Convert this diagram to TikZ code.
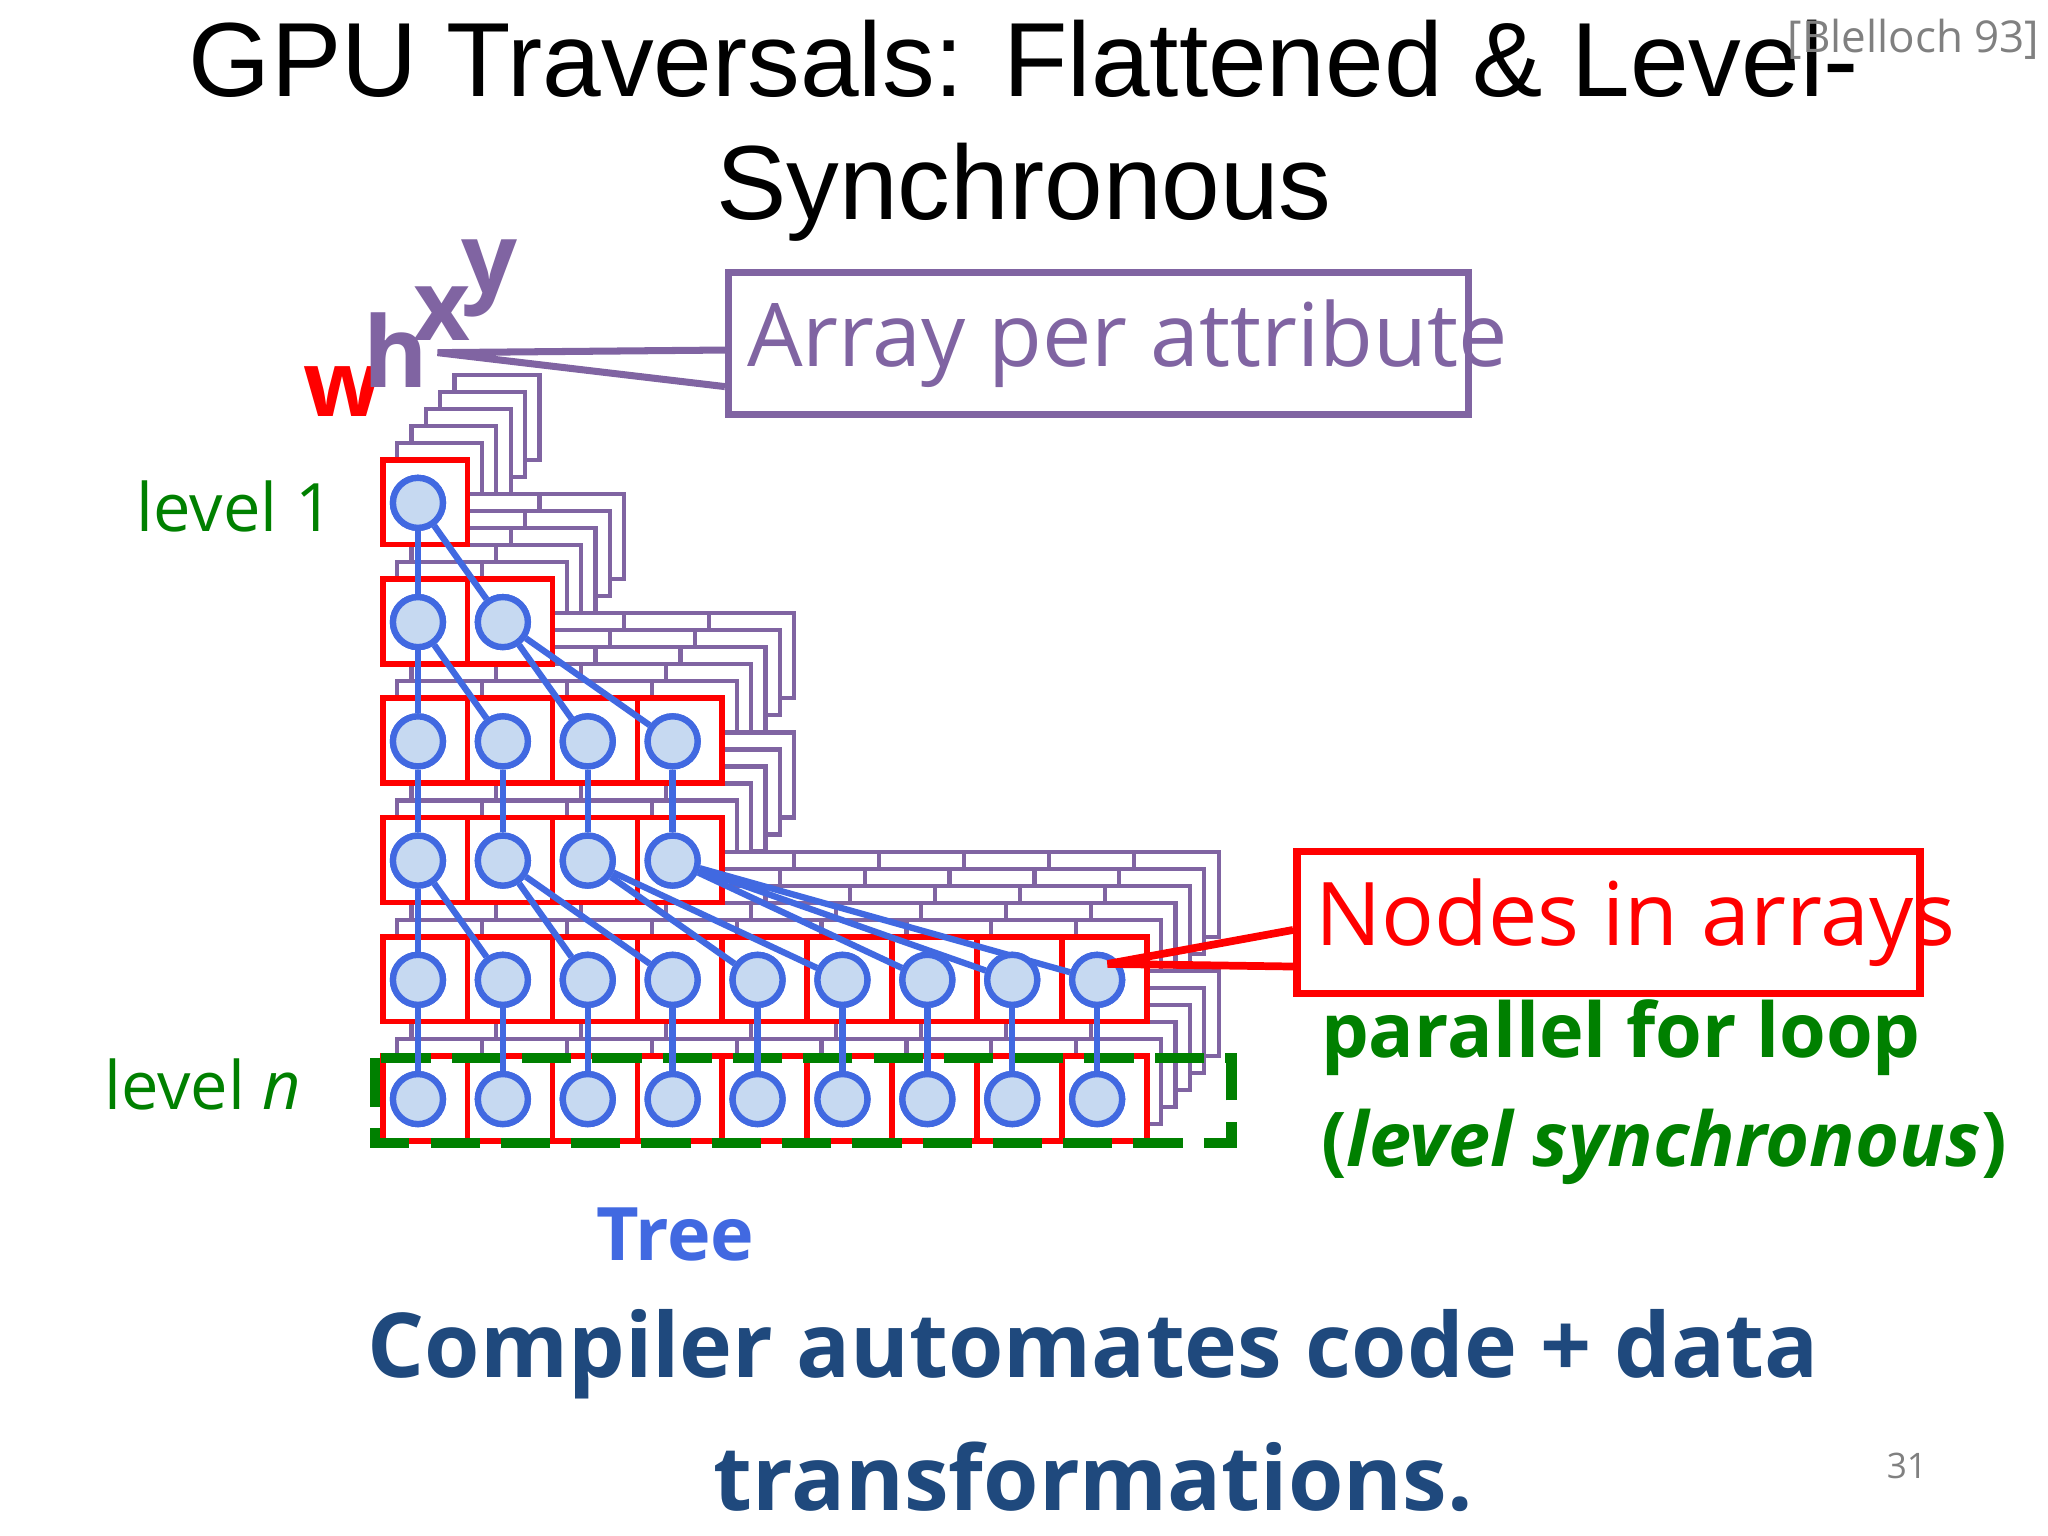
\documentclass[tikz,border=0pt]{standalone}
\usepackage{fontspec}
\setmainfont{Open Sans}
\newfontfamily\arial{Liberation Sans}
\begin{document}
\begin{tikzpicture}[x=0.013061cm,y=-0.013061cm,
 cell/.style={draw=red,line width=1.6pt,fill=white},
 back/.style={draw=pur,line width=1.2pt,fill=white},
 nd/.style={circle,draw=bl,fill=lb,line width=1.8pt,minimum size=0.5cm,inner sep=0pt},
 ed/.style={bl,line width=1.8pt}]
\useasboundingbox (0,0) rectangle (1568,1176);
\definecolor{pur}{RGB}{128,100,162}
\definecolor{grn}{RGB}{0,128,0}
\definecolor{navy}{RGB}{31,73,125}
\definecolor{bl}{RGB}{65,105,225}
\definecolor{lb}{RGB}{198,217,241}
\node[font=\arial\fontsize{30}{35}\selectfont,align=center] (title) at (784,100) {GPU Traversals: Flattened \& Level-\\Synchronous};
\node[font=\fontsize{12.5}{15}\selectfont,text=gray] (cite) at (1465,30) {[Blelloch 93]};
% back arrays
\foreach \r/\n in {0/1,1/2,2/4,3/4,4/9,5/9}{
 \foreach \s in {5,4,3,2,1}{
  \foreach \k in {1,...,\n}{
   \draw[back] ({293+65*(\k-1)+11*\s},{352+91.3*\r-13*\s}) rectangle ++(65,65);
  }}}
% front arrays
\foreach \r/\n in {0/1,1/2,2/4,3/4,4/9,5/9}{
  \foreach \k in {1,...,\n}{
   \draw[cell] ({293+65*(\k-1)},{352+91.3*\r}) rectangle ++(65,65);
   \node[nd] (n\r-\k) at ({320+65*(\k-1)},{385+91.3*\r}) {};
  }}
\draw[grn,line width=3pt,dash pattern=on 14pt off 6pt] (287,810) rectangle (943,875);
\foreach \a/\b in {0-1/1-1,0-1/1-2,1-1/2-1,1-1/2-2,1-2/2-3,1-2/2-4,2-1/3-1,2-2/3-2,2-3/3-3,2-4/3-4,
 3-1/4-1,3-1/4-2,3-2/4-3,3-2/4-4,3-3/4-5,3-3/4-6,3-4/4-7,3-4/4-8,3-4/4-9,
 4-1/5-1,4-2/5-2,4-3/5-3,4-4/5-4,4-5/5-5,4-6/5-6,4-7/5-7,4-8/5-8,4-9/5-9}
 \draw[ed] (n\a) -- (n\b);
\foreach \r/\n in {0/1,1/2,2/4,3/4,4/9,5/9}{\foreach \k in {1,...,\n}{\node[nd] at (n\r-\k) {};}}
% labels
\node[font=\fontsize{19}{23}\selectfont,text=grn] (l1) at (180,388) {level 1};
\node[font=\fontsize{19}{23}\selectfont,text=grn] (ln) at (155,830) {level \textit{n}};
\node[font=\bfseries\fontsize{26}{30}\selectfont,text=red] (w) at (262,300) {w};
\node[font=\bfseries\fontsize{28}{32}\selectfont,text=pur] (h) at (303,268) {h};
\node[font=\bfseries\fontsize{28}{32}\selectfont,text=pur] (x) at (338,240) {x};
\node[font=\bfseries\fontsize{28}{32}\selectfont,text=pur] (y) at (375,213) {y};
\node[draw=pur,line width=2pt,minimum width=7.4cm,minimum height=1.42cm,anchor=north west,inner sep=0pt] (arr) at (555,206) {};
\node[text=pur,font=\fontsize{25}{30}\selectfont,anchor=west] (arrt) at ([xshift=0.1cm]arr.west) {Array per attribute};
\draw[pur,line width=2pt] (555,268) -- (335,270) -- (555,296);
\node[draw=red,line width=2.2pt,minimum width=6.23cm,minimum height=1.42cm,anchor=north west,inner sep=0pt] (nia) at (990,649) {};
\node[text=red,font=\fontsize{25}{30}\selectfont,anchor=west] (niat) at ([xshift=0.1cm]nia.west) {Nodes in arrays};
\draw[red,line width=2.2pt] (990,712) -- (848,738) -- (990,740);
\node[font=\bfseries\fontsize{21.5}{31}\selectfont,text=grn,align=left,anchor=west] (pf) at (1002,836) {parallel for loop\\(\textit{level synchronous})};
\node[font=\bfseries\fontsize{21}{25}\selectfont,text=bl] (tree) at (517,945) {Tree};
\node[font=\bfseries\fontsize{25.5}{38}\selectfont,text=navy,align=center] (comp) at (837,1080) {Compiler automates code + data\\transformations.};
\node[font=\fontsize{10}{12}\selectfont,text=gray] (pg) at (1460,1122) {31};
\end{tikzpicture}
\end{document}
